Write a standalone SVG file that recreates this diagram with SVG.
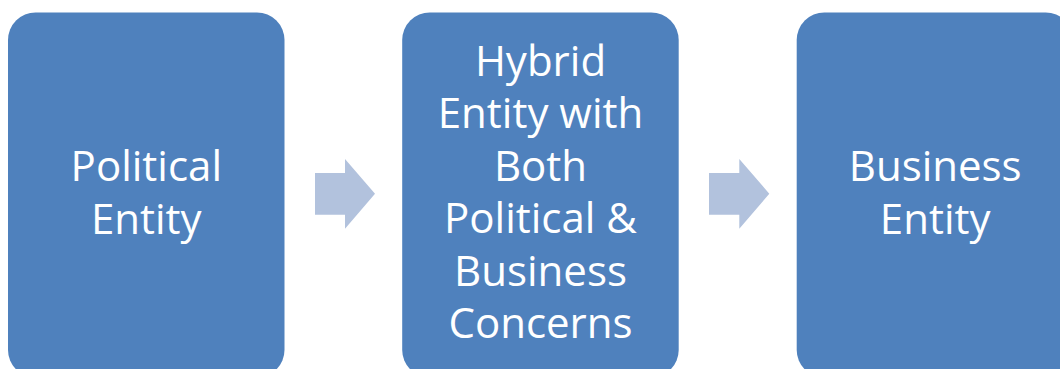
<svg xmlns="http://www.w3.org/2000/svg" width="1060" height="369" viewBox="0 0 1060 369">
<style>
.box{fill:#4F81BD}
.arrow{fill:#B2C2DD}
.lbl{font-family:"Open Sans","Liberation Sans",sans-serif;font-size:42px;fill:#FFFFFF;text-anchor:middle}
</style>
<rect width="1060" height="369" fill="#FFFFFF"/>
<g id="node-political">
<rect class="box" x="8" y="12.5" width="276.5" height="365" rx="27.6" ry="27.6"/>
<text class="lbl" x="146.3" y="181">Political</text>
<text class="lbl" x="146.3" y="234">Entity</text>
</g>
<g id="node-hybrid">
<rect class="box" x="402.2" y="12.5" width="276.5" height="365" rx="27.6" ry="27.6"/>
<text class="lbl" x="540.5" y="76">Hybrid</text>
<text class="lbl" x="540.5" y="128">Entity with</text>
<text class="lbl" x="540.5" y="180.5">Both</text>
<text class="lbl" x="540.5" y="233">Political &amp;</text>
<text class="lbl" x="540.5" y="285.5">Business</text>
<text class="lbl" x="540.5" y="337.5">Concerns</text>
</g>
<g id="node-business">
<rect class="box" x="796.7" y="12.5" width="276.5" height="365" rx="27.6" ry="27.6"/>
<text class="lbl" x="935.2" y="181">Business</text>
<text class="lbl" x="935.2" y="234">Entity</text>
</g>
<g id="connectors">
<polygon class="arrow" points="315,173 345,173 345,159 375,193.7 345,228.7 345,214.7 315,214.7"/>
<polygon class="arrow" points="709,173 739.3,173 739.3,159 769.3,193.7 739.3,228.7 739.3,214.7 709,214.7"/>
</g>
</svg>
